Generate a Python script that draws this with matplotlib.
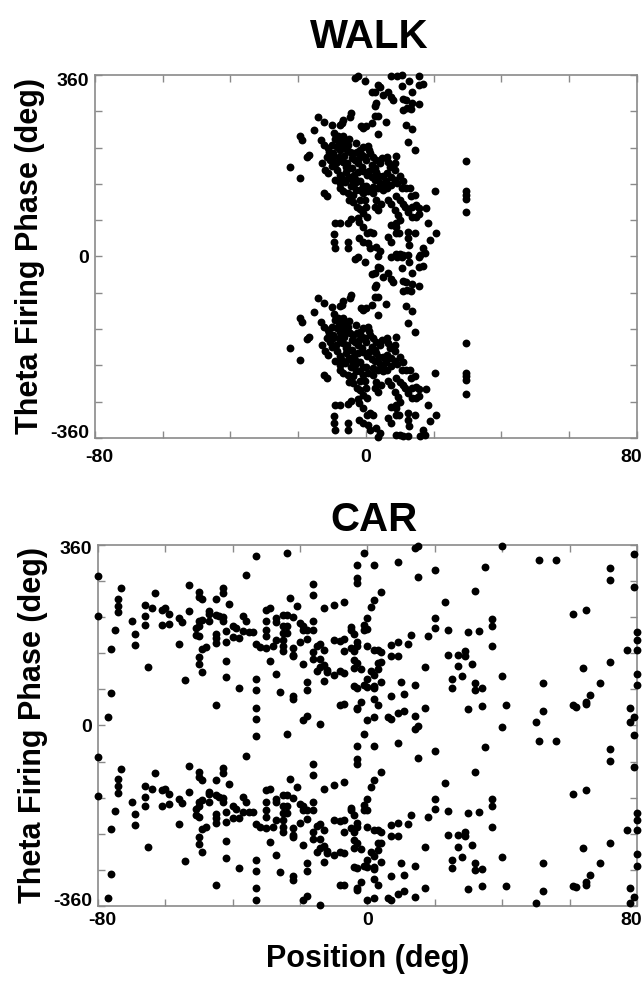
import matplotlib
matplotlib.use("Agg")
import matplotlib.pyplot as plt
import matplotlib.transforms as mtransforms
import numpy as np

# ---------------- data (upper copy, phase in 0..360; lower copy = phase - 360) -------------
walk_pos = [-3.2, -2.5, -0.2, 7.5, 9.2, 10.5, 15.6, 16.7, 15.7, 3.4, 4.1, 1.7, 2.6, 6.6, 4.9,
            12.7, 10.5, 13.7, 7.5, 8.0, 10.8, 11.8, 3.1, 2.6, 13.7, 15.7, 11.0, 12.0, 13.4,
            -4.5, -4.7, -6.9, -7.2, -7.8, -14.3, -12.4, -10.1, -15.3, -19.6, -18.9, -1.6, -0.8,
            0.0, 1.7, 2.6, 3.6, 5.8, 11.7, 13.5, 3.4, 12.5, 14.5, -16.7, -17.5, -22.4, -19.4,
            -13.3, -12.5, -11.1, -10.1, -9.1, -8.4, -7.6, -6.7, -5.9, -5.2, -8.6, -7.8, -6.9,
            -5.7, -4.7, -3.7, -2.7, -1.8, -1.3, -0.3, 1.2, -11.6, -10.6, -9.6, -12.1, -11.1,
            -8.8, -7.6, -6.7, -5.5, -3.2, -2.3, -1.3, 0.0, 3.1, 4.1, 4.6, 6.1, 6.6, 1.7, 2.6,
            -8.6, -7.6, -5.9, -4.9, -3.5, -9.1, -7.6, -6.2, -4.5, -3.2, -1.8, 0.2, 1.7, 2.6,
            4.1, 5.1, 8.5, 8.5, 6.1, 7.5, 8.5, 9.2, -12.5, -11.6, -7.6, -6.7, -5.2, -3.7, -1.8,
            -0.8, 0.7, 2.2, 3.6, 4.9, 6.1, 7.5, 10.5, 11.8, 12.9, 8.8, 13.4, 14.4, -4.9, -3.7,
            -1.8, -0.3, 3.1, 4.3, 6.6, 7.3, 10.0, 11.0, 20.5, 29.6, 29.6, 29.6, 29.6, 29.6,
            -2.7, -1.8, 0.0, -0.8, 0.2, 2.6, 3.6, 8.5, 9.5, 11.5, 12.5, 13.7, 14.7, 15.7, 17.6,
            13.7, 14.9, 15.7, -9.1, -7.6, -5.2, -4.5, -2.5, -2.0, -0.8, 0.2, 1.2, 2.2, 7.5,
            9.0, 10.0, 9.8, 12.5, 14.4, 18.3, 20.6, 18.8, -9.4, -9.4, -5.2, -5.2, -9.1, -2.0,
            -0.8, 0.7, 1.2, 2.9, 4.1, 3.6, 6.6, 7.5, 9.0, 9.0, 12.5, 12.7, 16.9, 15.9, 8.8,
            10.0, 11.0, 12.5, 17.4,
            -6.0, -4.0, -2.5, -9.5, -5.0, -1.0, -3.0, 1.0, -6.5, -8.0, 0.5, -4.2, 3.8, -10.8,
            -5.0, -3.0, -1.0, 1.0, -9.8, -8.0, -2.0, 2.0, -6.0, -4.0, -1.0, 3.0, 5.0, -7.0,
            -3.0, 0.0, 2.0, 6.0, 10.0, 11.0, 9.0, 7.0, -10.0, -13.0]
walk_phase = [355, 358, 349, 358, 358, 359, 358, 342, 340, 340, 337, 326, 327, 327, 320,
              349, 338, 327, 316, 310, 312, 310, 304, 299, 305, 302, 291, 294, 292,
              284, 277, 271, 264, 261, 277, 267, 260, 250, 238, 231, 258, 254,
              258, 264, 279, 279, 266, 261, 252, 243, 228, 211, 201, 197, 178, 155,
              231, 221, 215, 221, 234, 238, 231, 238, 228, 221, 218, 211, 219,
              211, 208, 205, 208, 211, 201, 198, 205, 198, 191, 198, 172, 165,
              185, 191, 188, 185, 191, 185, 178, 191, 191, 185, 195, 198, 188, 181, 175,
              172, 162, 168, 158, 162, 152, 145, 148, 140, 145, 150, 162, 157, 152,
              146, 144, 185, 172, 165, 158, 152, 146, 125, 119, 135, 129, 125, 122, 132,
              125, 129, 125, 135, 132, 135, 142, 135, 135, 135, 119, 119, 122, 112, 109,
              113, 113, 112, 105, 113, 105, 112, 105, 129, 189, 129, 122, 115, 88,
              99, 95, 99, 86, 79, 99, 92, 92, 82, 99, 89, 99, 102, 97, 97,
              79, 79, 84, 66, 66, 67, 74, 77, 69, 59, 46, 49, 46, 62,
              66, 72, 46, 49, 46, 66, 46, 33, 44, 29, 29, 16, 16, 36,
              29, 26, 16, 19, 10, 1, 39, 29, 59, 46, 36, 23, 16, 3, 5,
              5, 3, 3, 6,
              225, 195, 168, 245, 175, 140, 132, 170, 200, 224, 220, 152, 160, 208,
              233, 225, 218, 212, 205, 198, 195, 198, 178, 175, 170, 168, 160, 155,
              152, 140, 138, 150, 160, 150, 200, 178, 180, 185]

car_pos = [-80, -80, -33, -24, -1, -3, 2, -3, -3, 9, 15, 14, 15, 20, 35, 40, 51, 56, 72, 72,
           79, 79, -36, -73, -63, -53, -50, -50, -49, -43, -43, -45, -41, -74, -74, -74,
           -66, -66, -66, -64, -61, -59, -61, -60, -59, -56, -55, -53, -70, -75, -69, -69,
           -76, -65, -56, -54, -76, -77, -51, -50, -50, -49, -51, -50, -47, -47, -47, -45,
           -44, -43, -43, -45, -45, -45, -42, -42, -49, -48, -50, -50, -49, -42, -42, -45,
           -40, -39, -40, -38, -37, -36, -37, -35, -34, -38, -33, -32, -30, -33, -33, -33,
           -33, -30, -29, -30, -30, -30, -29, -28, -27, -27, -27, -27, -26, -25, -24, -25,
           -24, -25, -24, -25, -25, -25, -23, -22, -21, -22, -22, -22, -22, -22, -20, -19,
           -19, -18, -16, -16, -18, -20, -16, -16, -19, -18, -18, -19, -18, -14, -16, -15,
           -14, -13, -16, -14, -15, -14, -13, -12, -12, -13, -13, -10, -10, -8, -10, -7,
           -7, -7, -8, -7, -5, -5, -5, -4, -4, -3, -3, -4, -3, -4, -2, -4, -3, -8, -7, -3,
           -2, -3, -1, -1, 0, 0, 0, 1, 2, 4, 2, 3, 4, 1, 3, 2, 0, -1, 0, 2, 2, 3, 4, 4, 2,
           3, 2, 0, 6, 7, 7, 9, 7, 9, 7, 10, 11, 9, 11, 12, 13, 14, 14, 17, 17, 18, 20, 20,
           23, 24, 24, 25, 25, 27, 29, 29, 27, 28, 31, 30, 33, 32, 32, 32, 34, 30, 34, 37,
           37, 37, 40, 41, 52, 52, 50, 61, 65, 64, 61, 62, 65, 65, 66, 69, 72, 77, 80, 80,
           80, 80, 80, 78, 79, 78]
car_phase = [298, 219, 338, 343, 343, 320, 320, 294, 284, 326, 358, 353, 296, 310, 317, 357,
             329, 329, 314, 290, 341, 277, 300, 274, 265, 280, 267, 257, 252, 275, 265, 252,
             243, 253, 239, 226, 240, 218, 200, 234, 200, 203, 231, 234, 223, 214, 206, 228,
             208, 190, 183, 161, 153, 117, 163, 90, 64, 16, 194, 199, 208, 211, 181, 178,
             228, 208, 223, 221, 218, 216, 208, 183, 175, 165, 188, 167, 153, 157, 137, 123,
             107, 129, 96, 41, 199, 194, 176, 175, 218, 208, 188, 187, 187, 75, 163, 157, 155,
             92, 70, 35, 12, 231, 234, 208, 191, 178, 128, 158, 214, 207, 171, 102, 67, 221,
             221, 199, 199, 185, 185, 171, 158, 148, 254, 216, 238, 155, 141, 138, 52, 59,
             204, 199, 191, 191, 208, 191, 173, 166, 261, 283, 122, 86, 70, 11, 19, 2, 147,
             159, 163, 151, 133, 133, 108, 116, 120, 110, 106, 88, 234, 241, 171, 169, 101,
             247, 172, 148, 108, 105, 196, 191, 155, 148, 182, 166, 158, 131, 125, 115, 113,
             78, 75, 41, 42, 35, 47, 32, 201, 191, 192, 158, 214, 237, 251, 267, 151, 151,
             147, 108, 112, 100, 92, 80, 77, 78, 74, 125, 126, 87, 53, 41, 16, 11, 16, 12,
             161, 166, 139, 139, 59, 86, 62, 24, 29, 163, 181, 80, 18, 117, 35, 178, 214, 194,
             246, 190, 141, 92, 75, 141, 148, 139, 118, 98, 122, 186, 188, 268, 85, 71, 74,
             33, 39, 213, 199, 158, 98, 40, 85, 29, 6, 223, 231, 115, 40, 37, 47, 42, 61, 85,
             126, 151, 186, 171, 151, 103, 80, 35, 17, 6]

x_ticks = [-80, -60, -40, -20, 0, 20, 40, 60, 80]
x_ticklabels = ["-80", "", "", "", "0", "", "", "", "80"]
y_ticks = [-360, -288, -216, -144, -72, 0, 72, 144, 216, 288, 360]
y_ticklabels = ["-360", "", "", "", "", "0", "", "", "", "", "360"]

FONT = "Liberation Sans"
fig = plt.figure(figsize=(6.44, 9.84), dpi=100)
spine_col = "#8a8a8a"


def shift(label, dx_px, dy_px):
    off = mtransforms.ScaledTranslation(dx_px / 100.0, dy_px / 100.0, fig.dpi_scale_trans)
    label.set_transform(label.get_transform() + off)


def panel(rect, pos, phase, title, title_xy, xpad, ytop_dy, ybot_dy):
    ax = fig.add_axes(rect)
    pos = np.asarray(pos, float)
    phase = np.asarray(phase, float)
    xs = np.concatenate([pos, pos])
    ys = np.concatenate([phase, phase - 360])
    ax.scatter(xs, ys, s=32, c="black", linewidths=0, clip_on=False, zorder=3)
    ax.set_xlim(-80, 80)
    ax.set_ylim(-360, 360)
    ax.set_xticks(x_ticks)
    ax.set_xticklabels(x_ticklabels)
    ax.set_yticks(y_ticks)
    ax.set_yticklabels(y_ticklabels)
    ax.tick_params(direction="in", length=5, width=1.0, color=spine_col,
                   top=True, right=True)
    ax.tick_params(axis="x", pad=xpad)
    ax.tick_params(axis="y", pad=4)
    for lab in ax.get_xticklabels() + ax.get_yticklabels():
        lab.set_fontfamily(FONT)
        lab.set_fontweight("bold")
        lab.set_fontsize(14)
    xl = ax.get_xticklabels()
    shift(xl[0], 4, 0)
    shift(xl[-1], -6, 0)
    yl = ax.get_yticklabels()
    shift(yl[0], 0, ybot_dy)
    shift(yl[-1], 0, ytop_dy)
    for sp in ax.spines.values():
        sp.set_color(spine_col)
        sp.set_linewidth(1.2)
    ax.set_ylabel("Theta Firing Phase (deg)", fontfamily=FONT, fontweight="bold",
                  fontsize=22, labelpad=4)
    fig.text(title_xy[0], title_xy[1], title, ha="center", va="center", fontfamily=FONT,
             fontweight="bold", fontsize=29)
    return ax


ax1 = panel([0.1475, 0.5549, 0.8416, 0.3689], walk_pos, walk_phase, "WALK",
            (0.574, 0.962), 8, -5, 6)
ax2 = panel([0.152, 0.0793, 0.837, 0.3669], car_pos, car_phase, "CAR",
            (0.58, 0.472), 4, -3, 6)
ax2.set_xlabel("Position (deg)", fontfamily=FONT, fontweight="bold", fontsize=22,
               labelpad=11)

fig.savefig("out.png", dpi=100)
